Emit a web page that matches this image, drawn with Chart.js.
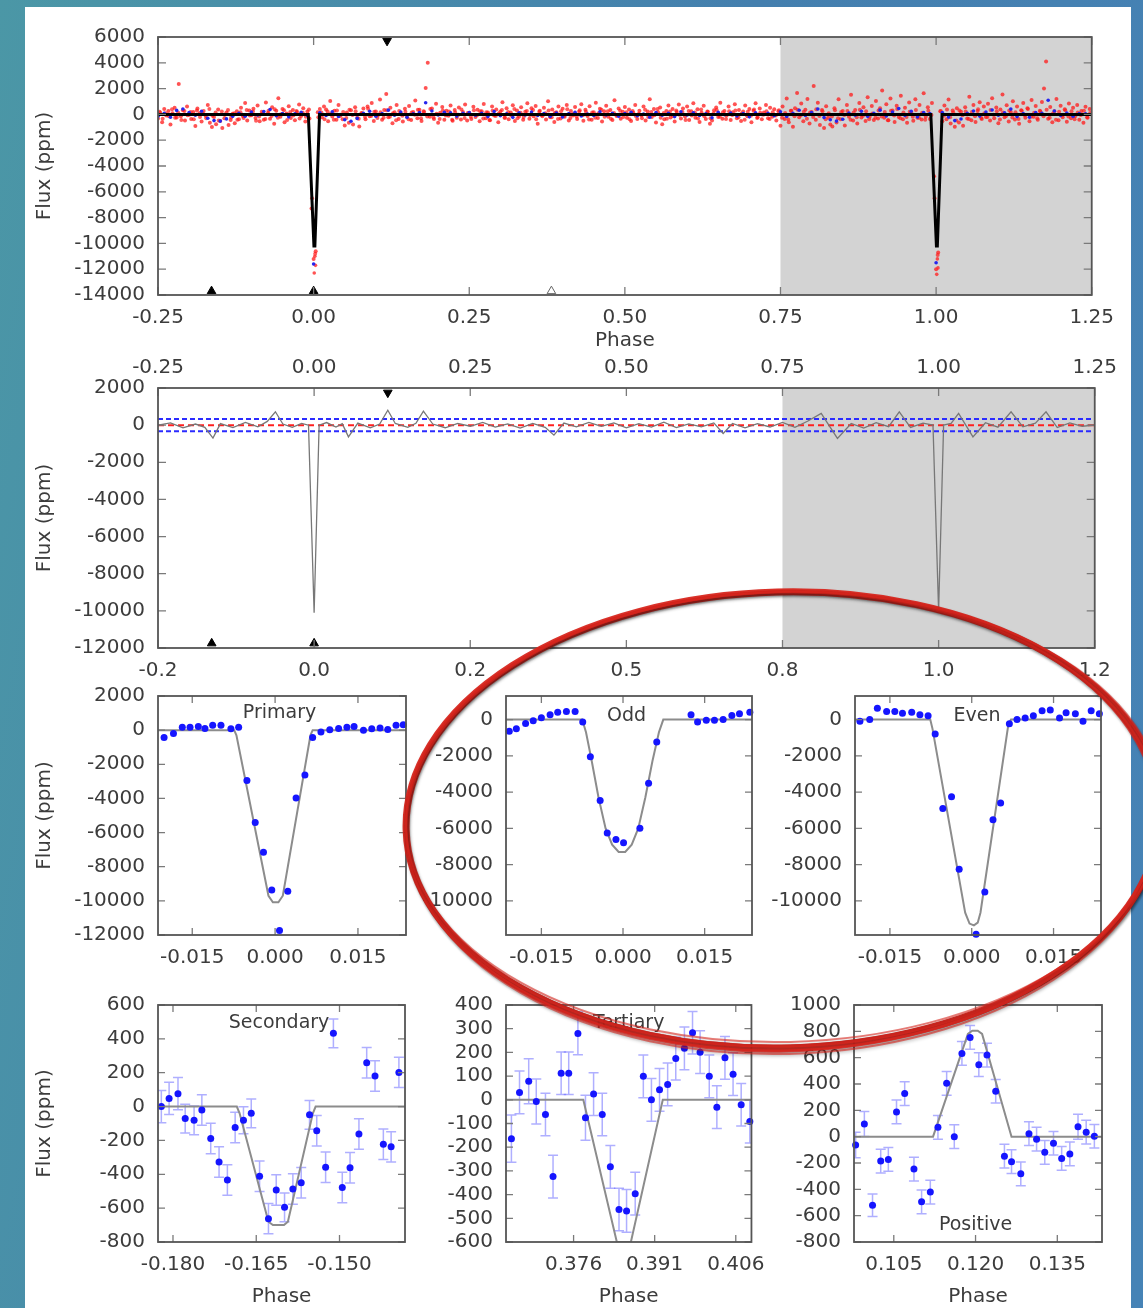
<!DOCTYPE html>
<html>
<head>
<meta charset="utf-8">
<script src="https://cdn.jsdelivr.net/npm/chart.js"></script>
<style>
  html, body { margin: 0; padding: 0; }
  body {
    width: 1143px; height: 1308px; overflow: hidden; position: relative;
    background: linear-gradient(100deg, #4b97a6 0%, #447fae 55%, #4683b6 100%);
  }
  .sheet { position: absolute; left: 25px; top: 7px; width: 1106px; height: 1310px; background: #fff; }
  canvas { position: absolute; }
  #ring { left: 0; top: 0; z-index: 5; pointer-events: none; }
</style>
</head>
<body>
<div class="sheet"></div>
<canvas id="c1"></canvas>
<canvas id="c2"></canvas>
<canvas id="cPri"></canvas>
<canvas id="cOdd"></canvas>
<canvas id="cEven"></canvas>
<canvas id="cSec"></canvas>
<canvas id="cTer"></canvas>
<canvas id="cPos"></canvas>
<canvas id="ring" width="1143" height="1308"></canvas>
<script>
// ---- full light curve (top two panels) ----
const phaseTicks = [-0.25, 0, 0.25, 0.5, 0.75, 1, 1.25];
const phaseLabels = ['-0.25', '0.00', '0.25', '0.50', '0.75', '1.00', '1.25'];
const phaseLabelsShort = ['-0.2', '0.0', '0.2', '0.5', '0.8', '1.0', '1.2'];
const p1FluxTicks = [6000, 4000, 2000, 0, -2000, -4000, -6000, -8000, -10000, -12000, -14000];
const p2FluxTicks = [2000, 0, -2000, -4000, -6000, -8000, -10000, -12000];
const shadeFrom = 0.75;

// raw photometry, evenly sampled from phase -0.25
const rawStart = -0.25, rawStep = 1.5 / 450;
const rawFlux = [
  -320, 150, -610, 420, -90, 260, -780, 80, 510, -240, 2350, -150, 330, -470, 610, -20, -350, 180, -890, 450, 90, -560, 270, -130, 720,
  -640, -980, -210, -760, 380, -520, -1050, -300, 150, -820, -430, 60, -690, 240, -370, 520, -150, 880, -480, 310, -60, 440, -270, 690, -540,
  200, -410, 930, 110, -330, 560, -720, 280, 1250, -190, 410, -600, 70, 640, -280, 350, -450, 190, 770, -120, 480, -560, 230, -310, -7300,
  -11200, -10600, 160, 420, -230, 610, 380, -540, 1040, -160, 290, -420, 720, -30, -380, -860, 140, -640, 330, -790, 560, -250, -940, 80, 450,
  -370, 610, -140, 890, -520, 230, -60, 1150, -410, 340, 1580, -230, 510, -680, 160, 720, -350, 90, -560, 430, -210, 650, -440, 180, 1070,
  -290, 370, -520, 240, 2050, 4000, -180, 460, -350, 830, -640, 120, 570, -420, 280, -110, 690, -500, 350, -260, 540, -390, 180, 760, -470,
  120, -360, 590, -200, 370, -540, 250, 810, -300, 140, -460, 620, -90, 380, -610, 230, 940, -250, 470, -380, 150, 700, -520, 300, -160,
  560, -420, 200, 870, -330, 480, -150, 660, -720, 290, -60, 510, -400, 1020, -230, 380, -580, 170, 620, -310, 440, -180, 730, -470, 260,
  -90, 580, -350, 220, 790, -500, 360, -130, 640, -420, 170, 910, -280, 430, -560, 250, 680, -190, 350, -440, 1100, -120, 460, -330, 210,
  570, -260, 380, -520, 140, 720, -350, 290, -80, 610, -470, 230, 1180, -200, 410, -630, 160, 530, -760, -380, 270, 690, -240, 420, -550,
  180, 760, -310, 450, -170, 620, -430, 240, 860, -260, 390, -580, 130, 670, -350, 200, -720, -480, 330, 540, -200, 910, -340, 260, -90,
  610, -440, 170, 780, -290, 350, -520, 230, 690, -150, 420, -610, 280, 860, -230, 460, -380, 140, 720, -300, 510, -180, 390, -470, 240,
  -880, 620, -350, 1240, -610, 290, -950, 470, 1650, -220, 840, -530, 360, 1200, -700, 180, 2200, -420, 910, -830, 350, -1050, 640, -260, -780,
  -940, 470, -620, 1180, -380, 260, -860, 730, -190, 1520, -470, 340, -700, 890, -240, 560, -520, 1320, -180, 650, -430, 1030, -310, 480, 1860,
  -250, 790, -460, 1240, 300, -580, 680, -210, 1450, -370, 520, -640, 930, 150, -490, 1180, -260, 720, -400, 1640, -180, 560, -350, 880, -4800,
  -12000, -10700, 240, -530, 690, -380, 1150, -710, 310, -960, 480, -620, 200, -880, 560, -320, 1370, -450, 720, -580, 260, 940, -350, 610, -210,
  830, -470, 1260, -300, 540, -690, 380, 1550, -220, 710, -560, 190, 1010, -390, 620, -720, 330, 880, -260, 470, -540, 1120, -180, 650, -410,
  280, 960, 2000, 4100, -330, 570, -610, 240, 1190, -450, 680, -220, 390, -570, 840, -300, 510, -150, 730, -420, 260, -640, 590, -260, 410
];
// second cadence of raw photometry, interleaved with the first
const raw2Start = -0.2475, raw2Step = 0.005;
const rawFlux2 = [
  210, -340, 80, -150, 390, -260, 120, -430, 270, -60, 180, -380, 310, -200, 40, -290, 420, -110, 150, -470, 230, -30, 340, -240, 90,
  -410, 160, -280, 350, -90, 220, -500, -170, 60, -360, 280, -130, 400, -250, 10, 330, -440, 190, -80, 260, -320, 120, -190, 380, -6500,
  -10800, -230, 140, -370, 230, 50, -420, 310, -140, 180, -270, 360, -50, 250, -330, 100, -200, 440, -120, 210, -280, 170, -260, 320, -180,
  80, -450, 270, -110, 210, -380, 140, -30, 360, -290, 190, -160, 420, -240, 60, -350, 300, -90, 230, -410, 150, -20, 380, -270, 110,
  -190, 330, -60, 250, -320, 170, -440, 280, -130, 70, 350, -250, 190, -80, 410, -300, 120, -210, 260, -40, 340, -370, 200, -150, 90,
  300, -220, 130, -350, 240, -100, 390, -280, 60, -170, 320, -60, 210, -400, 150, -260, 80, 370, -190, 250, -330, 110, -40, 290, -210,
  160, -380, 270, -120, 50, -300, 360, -210, 180, -70, 420, -260, 100, -340, 230, -150, 310, -30, 190, -430, 260, -90, 140, -310, 380,
  -140, 220, -290, 90, 340, -190, 170, -360, 250, -40, 300, -230, 60, -410, 200, -110, 380, -270, 130, -20, 240, -350, 170, -80, 320,
  -260, 110, -400, 280, -150, 360, -60, 210, -330, 150, -210, 400, -120, 250, -380, 90, -170, 330, -290, 180, -50, 270, -420, 140, -230,
  360, -110, 240, -370, 70, -250, 310, -160, 190, -450, 280, -80, 420, -300, 150, -200, 200, -180, 350, -260, 120, -410, 290, -40, -6500,
  -10900, 260, -100, 380, -220, 140, -470, 310, -60, 230, -350, 180, -140, 400, -280, 90, -210, 340, -20, 250, -390, 150, -120, 300, -240,
  170, -360, 280, -70, 410, -190, 120, -300, 230, -150, 360, -250, 60, -420, 210, -90, 330, -170, 240, -380, 140, -40, 290, -220, 100
];
const dipPhase = [0.002, 0.003, 0.001, 1.002, 1.003, 1.001];
const dipFlux = [-11000, -11700, -12300, -11200, -11900, -12400];

// binned photometry
const binStart = -0.25, binStep = 0.01;
const binFlux = [
  -150, 80, -220, 310, 420, 140, -60, 250, -300, -480, -520, -350, -150, 90, -140, 180, -50, 230, 380, -110, 60, -190, 40, 170, -90,
  -11600, 120, -80, 210, -160, -420, -530, -310, 90, 250, -140, 60, 330, -70, 180, -220, 40, 150, 900, 260, -40, 170, 120, -130, 80,
  140, -60, 90, -170, 220, -110, 40, -230, 130, -40, 180, -90, 60, -150, 110, -200, 70, 160, -120, 30, -80, 200, -50, 90, -140,
  60, 170, -100, 30, -220, 140, -60, 90, -170, 210, -40, 120, -80, 50, -260, 160, -30, 100, -120, 70, -190, 130, -10, 80, -110,
  210, -160, 80, 320, -90, 150, 420, -240, -410, -520, -380, 110, -60, 240, -150, 90, 330, -120, 180, 460, -80, 250, -190, 140, 60,
  -11500, 150, -210, -480, -360, 90, 260, -130, 180, 340, -60, 120, 410, -170, 60, -220, 140, 90, 1100, 260, -80, 110, -150, 70, 40
];

const modelPhase = [-0.25, -0.0085, 0.0005, 0.002, 0.0095, 0.9915, 1.0005, 1.002, 1.0095, 1.25];
const modelFlux = [0, 0, -10200, -10200, 0, 0, -10200, -10200, 0, 0];

// second panel: binned model and thresholds
const p2Phase = [-0.25, -0.23, -0.21, -0.19, -0.175, -0.162, -0.15, -0.13, -0.11, -0.09, -0.075, -0.062, -0.05, -0.035, -0.02, -0.009, 0, 0.008,
  0.02, 0.035, 0.045, 0.055, 0.07, 0.09, 0.105, 0.118, 0.13, 0.15, 0.163, 0.175, 0.19, 0.21, 0.23, 0.25, 0.27, 0.29, 0.31, 0.33, 0.35, 0.37,
  0.384, 0.40, 0.42, 0.44, 0.46, 0.48, 0.50, 0.52, 0.54, 0.56, 0.58, 0.60, 0.62, 0.64, 0.655, 0.67, 0.69, 0.71, 0.73, 0.75, 0.77, 0.79,
  0.812, 0.838, 0.86, 0.88, 0.90, 0.92, 0.937, 0.955, 0.975, 0.991, 1.0, 1.008, 1.02, 1.032, 1.055, 1.075, 1.095, 1.116, 1.135, 1.155,
  1.172, 1.19, 1.21, 1.23, 1.25];
const p2Flux = [0, 120, -150, 60, -120, -700, 80, -130, 150, -90, 200, 720, 60, -120, 90, 0, -10100, 0,
  140, -100, 80, -630, 110, -140, 60, 800, 90, -120, 100, 750, 60, -140, 90, -60, 150, -110, 70, -160, 90, -120,
  -540, 110, -90, 150, -70, 120, -150, 80, -110, 160, -130, 70, -90, 120, -450, 90, -140, 80, -100, 150, -120, 210,
  630, -716, 90, -160, 130, -80, 716, -120, 110, 0, -10000, 0, 90, 630, -630, 130, -110, 716, -90, 110,
  716, -130, 120, -60, 0];
const p2SigmaLevels = [330, -330];
const p2ZeroLevel = 0;

const markTop = [0.118];
const markBottom = [-0.164, 0.0];
const markOpen = [0.382];

// ---- zoomed eclipses ----
const eclTicks = [-0.015, 0, 0.015];
const eclLabels = ['-0.015', '0.000', '0.015'];
const priFluxTicks = [2000, 0, -2000, -4000, -6000, -8000, -10000, -12000];
const oddFluxTicks = [0, -2000, -4000, -6000, -8000, -10000];

const primaryPhase = [-0.0201, -0.0184, -0.0168, -0.0154, -0.0139, -0.0127, -0.0113, -0.0098, -0.0080, -0.0066, -0.0051, -0.0036, -0.0021, -0.0006, 0.0008,
  0.0023, 0.0038, 0.0054, 0.0068, 0.0083, 0.0099, 0.0115, 0.0130, 0.0143, 0.0160, 0.0175, 0.0190, 0.0204, 0.0219, 0.0232];
const primaryFlux = [-430, -200, 170, 170, 220, 100, 280, 280, 80, 170, -2950, -5410, -7150, -9360, -11730,
  -9430, -3980, -2630, -430, -110, 30, 100, 170, 220, 0, 80, 130, 40, 280, 310];
const primaryModelPhase = [-0.0215, -0.0074, -0.0070, -0.0012, -0.0004, 0.0006, 0.0014, 0.0064, 0.0068, 0.0240];
const primaryModelFlux = [0, 0, -300, -9700, -10080, -10080, -9700, -300, 0, 0];

const oddPhase = [-0.0209, -0.0196, -0.0179, -0.0165, -0.0150, -0.0134, -0.0120, -0.0104, -0.0088, -0.0074, -0.0060, -0.0042, -0.0029, -0.0013, 0.0001,
  0.0031, 0.0047, 0.0062, 0.0125, 0.0137, 0.0153, 0.0168, 0.0184, 0.0200, 0.0214, 0.0233];
const oddFlux = [-650, -510, -210, -70, 100, 260, 400, 450, 450, -130, -2050, -4460, -6260, -6620, -6790,
  -6000, -3510, -1230, 260, -130, -40, -40, 0, 230, 320, 400];
const oddModelPhase = [-0.0215, -0.0075, -0.0068, -0.0058, -0.0045, -0.0032, -0.0020, -0.0008, 0.0004, 0.0016, 0.0028, 0.0041, 0.0054, 0.0066, 0.0074, 0.0240];
const oddModelFlux = [0, 0, -700, -2200, -4300, -6000, -6900, -7300, -7300, -6900, -6000, -4300, -2300, -700, 0, 0];

const evenPhase = [-0.0205, -0.0187, -0.0173, -0.0156, -0.0141, -0.0127, -0.0110, -0.0095, -0.0080, -0.0067, -0.0053, -0.0037, -0.0023, 0.0008, 0.0024,
  0.0039, 0.0053, 0.0069, 0.0083, 0.0098, 0.0113, 0.0129, 0.0144, 0.0161, 0.0173, 0.0190, 0.0204, 0.0219, 0.0234];
const evenFlux = [-90, 0, 620, 440, 440, 350, 400, 260, 210, -790, -4910, -4250, -8250, -11840, -9510,
  -5530, -4600, -230, 0, 90, 210, 490, 530, 90, 380, 320, -90, 490, 320];
const evenModelPhase = [-0.0215, -0.0076, -0.0072, -0.0012, -0.0004, 0.0004, 0.0011, 0.0016, 0.0067, 0.0072, 0.0240];
const evenModelFlux = [0, 0, -500, -10650, -11250, -11350, -11200, -10650, -300, 0, 0];

// ---- secondary / tertiary / positive ----
const secTicks = [-0.180, -0.165, -0.150];
const secLabels = ['-0.180', '-0.165', '-0.150'];
const secFluxTicks = [600, 400, 200, 0, -200, -400, -600, -800];
const secPhase = [-0.1821, -0.1807, -0.1791, -0.1778, -0.1762, -0.1748, -0.1732, -0.1717, -0.1702, -0.1688, -0.1673, -0.1659, -0.1644, -0.1628, -0.1614,
  -0.1599, -0.1584, -0.1569, -0.1554, -0.1541, -0.1525, -0.1511, -0.1495, -0.1481, -0.1465, -0.1451, -0.1436, -0.1421, -0.1407, -0.1393];
const secFlux = [0, 48, 76, -71, -81, -20, -189, -327, -434, -123, -81, -40, -412, -662, -493,
  -595, -487, -450, -49, -143, -359, 433, -478, -361, -162, 259, 180, -223, -238, 202];
const secErr = [95, 95, 95, 85, 85, 90, 90, 90, 90, 90, 80, 85, 90, 90, 90, 85, 90, 90, 85, 90, 90, 85, 90, 90, 90, 90, 90, 90, 90, 90];
const secModelPhase = [-0.1827, -0.1685, -0.1680, -0.1628, -0.1620, -0.1600, -0.1593, -0.1548, -0.1543, -0.1382];
const secModelFlux = [0, 0, -40, -680, -700, -700, -680, -40, 0, 0];

const terTicks = [0.376, 0.391, 0.406];
const terLabels = ['0.376', '0.391', '0.406'];
const terFluxTicks = [400, 300, 200, 100, 0, -100, -200, -300, -400, -500, -600];
const terPhase = [0.3645, 0.3660, 0.3677, 0.3691, 0.3708, 0.3722, 0.3737, 0.3751, 0.3768, 0.3782, 0.3797, 0.3813, 0.3828, 0.3844, 0.3858,
  0.3874, 0.3889, 0.3904, 0.3919, 0.3934, 0.3949, 0.3965, 0.3980, 0.3994, 0.4011, 0.4025, 0.4040, 0.4055, 0.4070, 0.4086];
const terFlux = [-164, 31, 78, -7, -62, -324, 112, 112, 280, -76, 24, -62, -283, -463, -469,
  -396, 99, 0, 42, 65, 174, 217, 283, 201, 99, -31, 177, 108, -21, -92];
const terErr = [100, 90, 95, 95, 90, 90, 90, 90, 90, 95, 90, 90, 90, 90, 90, 90, 90, 90, 90, 90, 90, 90, 90, 90, 90, 90, 90, 90, 90, 90];
const terModelPhase = [0.3635, 0.3778, 0.3840, 0.3866, 0.3925, 0.4089];
const terModelFlux = [0, 0, -600, -600, 0, 0];

const posTicks = [0.105, 0.120, 0.135];
const posLabels = ['0.105', '0.120', '0.135'];
const posFluxTicks = [1000, 800, 600, 400, 200, 0, -200, -400, -600, -800];
const posPhase = [0.0980, 0.0996, 0.1011, 0.1026, 0.1040, 0.1055, 0.1070, 0.1087, 0.1101, 0.1117, 0.1131, 0.1147, 0.1161, 0.1175, 0.1190,
  0.1206, 0.1221, 0.1237, 0.1253, 0.1266, 0.1283, 0.1298, 0.1312, 0.1327, 0.1343, 0.1358, 0.1373, 0.1388, 0.1403, 0.1418];
const posFlux = [-63, 96, -521, -185, -173, 188, 327, -246, -495, -421, 71, 405, 0, 632, 754,
  547, 620, 345, -148, -190, -282, 23, -19, -119, -50, -165, -131, 76, 34, 3];
const posErr = [97, 95, 85, 90, 90, 90, 90, 90, 90, 90, 90, 90, 90, 90, 90, 90, 90, 90, 90, 90, 90, 90, 90, 90, 90, 90, 90, 95, 90, 90];
const posModelPhase = [0.0977, 0.1122, 0.1186, 0.1194, 0.1204, 0.1212, 0.1266, 0.1432];
const posModelFlux = [0, 0, 780, 805, 805, 780, 0, 0];


const TEXT = '#3c3c3c';
const FONT = { family: "'DejaVu Sans', sans-serif", size: 20 };
const LABEL_FONT = "19px 'DejaVu Sans', sans-serif";
Chart.defaults.font.family = FONT.family;
Chart.defaults.color = TEXT;
Chart.defaults.animation = false;

const pts = (xs, ys) => xs.map((x, i) => ({ x, y: ys[i] }));
const even = (start, step, ys) => ys.map((y, i) => ({ x: start + i * step, y }));

// gnuplot-like box: shading, error bars, mirrored inner ticks, in-plot label
const gnuFrame = {
  id: 'gnuFrame',
  defaults: { shadeFrom: null, label: null, tick: 7 },
  beforeDatasetsDraw(chart, args, o) {
    const { ctx, chartArea: a, scales: { x, y } } = chart;
    ctx.save();
    ctx.beginPath();
    ctx.rect(a.left, a.top, a.width, a.height);
    ctx.clip();
    if (o.shadeFrom !== null) {
      const sx = x.getPixelForValue(o.shadeFrom);
      ctx.fillStyle = '#d3d3d3';
      ctx.fillRect(sx, a.top, a.right - sx, a.height);
    }
    chart.data.datasets.forEach(ds => {
      if (!ds.errors) return;
      ctx.strokeStyle = 'rgba(95, 95, 255, 0.5)';
      ctx.lineWidth = 1.5;
      ds.data.forEach((p, i) => {
        const px = x.getPixelForValue(p.x);
        const t = y.getPixelForValue(p.y + ds.errors[i]);
        const b = y.getPixelForValue(p.y - ds.errors[i]);
        ctx.beginPath();
        ctx.moveTo(px, t); ctx.lineTo(px, b);
        ctx.moveTo(px - 5, t); ctx.lineTo(px + 5, t);
        ctx.moveTo(px - 5, b); ctx.lineTo(px + 5, b);
        ctx.stroke();
      });
    });
    ctx.restore();
  },
  afterDraw(chart, args, o) {
    const { ctx, chartArea: a, scales: { x, y } } = chart;
    ctx.save();
    ctx.strokeStyle = '#7a7a7a';
    ctx.lineWidth = 1.3;
    ctx.beginPath();
    x.ticks.forEach(t => {
      const px = x.getPixelForValue(t.value);
      ctx.moveTo(px, a.bottom); ctx.lineTo(px, a.bottom - o.tick);
      ctx.moveTo(px, a.top); ctx.lineTo(px, a.top + o.tick);
    });
    y.ticks.forEach(t => {
      const py = y.getPixelForValue(t.value);
      ctx.moveTo(a.left, py); ctx.lineTo(a.left + o.tick, py);
      ctx.moveTo(a.right, py); ctx.lineTo(a.right - o.tick, py);
    });
    ctx.stroke();
    ctx.strokeStyle = '#555';
    ctx.lineWidth = 1.8;
    ctx.strokeRect(a.left, a.top, a.width, a.height);
    if (o.label) {
      ctx.fillStyle = TEXT;
      ctx.font = LABEL_FONT;
      ctx.textAlign = 'center';
      ctx.textBaseline = 'middle';
      ctx.fillText(o.label.text, a.left + a.width * o.label.fx, a.top + a.height * o.label.fy);
    }
    ctx.restore();
  }
};
Chart.register(gnuFrame);

function xAxis(min, max, ticks, labels, size, extra) {
  return Object.assign({
    type: 'linear', position: 'bottom', min, max,
    afterBuildTicks: s => { s.ticks = ticks.map(v => ({ value: v })); },
    afterFit: s => { s.height = size; },
    grid: { display: false, drawTicks: false },
    border: { display: false },
    ticks: { autoSkip: false, maxRotation: 0, minRotation: 0, padding: 11, color: TEXT, font: FONT,
      callback: (v, i) => labels[i] }
  }, extra || {});
}

function yAxis(min, max, ticks, size, title) {
  return {
    type: 'linear', min, max,
    afterBuildTicks: s => { s.ticks = ticks.map(v => ({ value: v })); },
    afterFit: s => { s.width = size; },
    grid: { display: false, drawTicks: false },
    border: { display: false },
    ticks: { autoSkip: false, padding: 13, color: TEXT, font: FONT, callback: v => String(v) },
    title: title ? { display: true, text: 'Flux (ppm)', color: TEXT, font: FONT, padding: { top: 5, bottom: 0 } } : { display: false }
  };
}

function makePanel(id, area, pad, datasets, scales, frame, topAxis) {
  const c = document.getElementById(id);
  const w = area[2] - area[0] + pad.l + pad.r;
  const h = area[3] - area[1] + pad.t + pad.b;
  c.width = w; c.height = h;
  c.style.width = w + 'px'; c.style.height = h + 'px';
  c.style.left = (area[0] - pad.l) + 'px';
  c.style.top = (area[1] - pad.t) + 'px';
  return new Chart(c, {
    type: 'scatter',
    data: { datasets },
    options: {
      responsive: false, devicePixelRatio: 1,
      layout: { autoPadding: false, padding: { left: 0, bottom: 0, right: pad.r, top: topAxis ? 0 : pad.t } },
      plugins: { legend: { display: false }, tooltip: { enabled: false }, gnuFrame: frame },
      scales
    }
  });
}

function marks(xs, yv, down, open) {
  return {
    data: xs.map(x => ({ x, y: yv })),
    pointStyle: 'triangle', pointRadius: 5, rotation: down ? 180 : 0,
    backgroundColor: open ? 'rgba(0,0,0,0)' : '#000',
    borderColor: open ? '#666' : '#000', borderWidth: 1
  };
}

function curve(data, color, width, dash) {
  return { data, showLine: true, pointRadius: 0, borderColor: color, borderWidth: width, borderDash: dash || [], tension: 0 };
}

const phaseTitle = { display: true, text: 'Phase', color: TEXT, font: FONT, padding: 0 };

// ---- panel 1: full phase curve ----
makePanel('c1', [158, 32, 1095, 295], { l: 130, r: 30, t: 20, b: 58 }, [
  marks(markTop, 5700, true),
  marks(markBottom, -13700, false),
  marks(markOpen, -13700, false, true),
  curve(pts(modelPhase, modelFlux), '#000', 3),
  { data: even(binStart, binStep, binFlux), pointRadius: 1.8, backgroundColor: '#2525ee', borderWidth: 0 },
  { data: pts(dipPhase, dipFlux), pointRadius: 1.8, backgroundColor: 'rgba(255,40,40,0.8)', borderWidth: 0 },
  { data: even(raw2Start, raw2Step, rawFlux2), pointRadius: 2, backgroundColor: 'rgba(255,25,25,0.7)', borderWidth: 0 },
  { data: even(rawStart, rawStep, rawFlux), pointRadius: 2, backgroundColor: 'rgba(255,25,25,0.75)', borderWidth: 0 }
], {
  x: xAxis(-0.25, 1.25, phaseTicks, phaseLabels, 58, { title: phaseTitle }),
  y: yAxis(-14000, 6000, p1FluxTicks, 130, true)
}, { shadeFrom: shadeFrom, tick: 8 });

// ---- panel 2: binned model with thresholds ----
const topAxis = xAxis(-0.25, 1.25, phaseTicks, phaseLabels, 32, { position: 'top' });
topAxis.ticks.padding = 8;
makePanel('c2', [158, 388, 1095, 648], { l: 130, r: 30, t: 32, b: 40 }, [
  marks(markTop, 1750, true),
  marks(markBottom, -11750, false),
  curve(pts(p2Phase, p2Flux), '#777', 1.3),
  curve(pts([-0.25, 1.25], [p2ZeroLevel, p2ZeroLevel]), '#ff2020', 2, [6, 4]),
  curve(pts([-0.25, 1.25], [p2SigmaLevels[0], p2SigmaLevels[0]]), '#2b2bff', 2, [5, 3]),
  curve(pts([-0.25, 1.25], [p2SigmaLevels[1], p2SigmaLevels[1]]), '#2b2bff', 2, [5, 3])
], {
  x: xAxis(-0.25, 1.25, phaseTicks, phaseLabelsShort, 40),
  x2: topAxis,
  y: yAxis(-12000, 2000, p2FluxTicks, 130, true)
}, { shadeFrom: shadeFrom, tick: 8 }, true);

// ---- small panels ----
function smallPanel(p) {
  const sets = [
    { data: pts(p.phase, p.flux), errors: p.err, pointRadius: 3.5, backgroundColor: '#1515ff', borderWidth: 0, clip: false },
    curve(pts(p.mPhase, p.mFlux), '#8c8c8c', 2)
  ];
  const x = xAxis(p.xr[0], p.xr[1], p.xt, p.xl, p.padB, p.phaseTitle ? { title: phaseTitle } : {});
  makePanel(p.id, p.area, { l: p.padL, r: 25, t: 14, b: p.padB }, sets,
    { x, y: yAxis(p.yr[0], p.yr[1], p.yt, p.padL, p.yTitle) },
    { label: p.label, tick: 7 });
}

smallPanel({ id: 'cPri', area: [158, 685, 406, 935], padL: 130, padB: 40, yTitle: true,
  xr: [-0.0212, 0.0237], yr: [-12000, 2000], xt: eclTicks, xl: eclLabels, yt: priFluxTicks,
  phase: primaryPhase, flux: primaryFlux, mPhase: primaryModelPhase, mFlux: primaryModelFlux,
  label: { text: 'Primary', fx: 0.49, fy: 0.072 } });
smallPanel({ id: 'cOdd', area: [506, 685, 752, 935], padL: 100, padB: 40,
  xr: [-0.0215, 0.0237], yr: [-11880, 1300], xt: eclTicks, xl: eclLabels, yt: oddFluxTicks,
  phase: oddPhase, flux: oddFlux, mPhase: oddModelPhase, mFlux: oddModelFlux,
  label: { text: 'Odd', fx: 0.49, fy: 0.084 } });
smallPanel({ id: 'cEven', area: [855, 685, 1101, 935], padL: 100, padB: 40,
  xr: [-0.0214, 0.0237], yr: [-11880, 1300], xt: eclTicks, xl: eclLabels, yt: oddFluxTicks,
  phase: evenPhase, flux: evenFlux, mPhase: evenModelPhase, mFlux: evenModelFlux,
  label: { text: 'Even', fx: 0.496, fy: 0.084 } });
smallPanel({ id: 'cSec', area: [158, 994, 405, 1242], padL: 130, padB: 67, yTitle: true, phaseTitle: true,
  xr: [-0.1827, -0.1382], yr: [-800, 600], xt: secTicks, xl: secLabels, yt: secFluxTicks,
  phase: secPhase, flux: secFlux, err: secErr, mPhase: secModelPhase, mFlux: secModelFlux,
  label: { text: 'Secondary', fx: 0.49, fy: 0.077 } });
smallPanel({ id: 'cTer', area: [506, 994, 752, 1242], padL: 100, padB: 67, phaseTitle: true,
  xr: [0.3635, 0.4089], yr: [-600, 400], xt: terTicks, xl: terLabels, yt: terFluxTicks,
  phase: terPhase, flux: terFlux, err: terErr, mPhase: terModelPhase, mFlux: terModelFlux,
  label: { text: 'Tertiary', fx: 0.5, fy: 0.077 } });
smallPanel({ id: 'cPos', area: [854, 994, 1102, 1242], padL: 100, padB: 67, phaseTitle: true,
  xr: [0.0977, 0.1432], yr: [-800, 1000], xt: posTicks, xl: posLabels, yt: posFluxTicks,
  phase: posPhase, flux: posFlux, err: posErr, mPhase: posModelPhase, mFlux: posModelFlux,
  label: { text: 'Positive', fx: 0.49, fy: 0.927 } });

// hand-drawn red ring around the odd/even panels
const ring = document.getElementById('ring').getContext('2d');
ring.save();
ring.translate(783, 820);
ring.rotate(-0.025);
ring.shadowColor = 'rgba(0,0,0,0.3)';
ring.shadowBlur = 3;
ring.shadowOffsetX = 1;
ring.shadowOffsetY = 2;
[[0, 0, 7, 0.95], [1.5, -1, 3, 0.8], [-1.5, 1.5, 3, 0.8], [0, 3, 2, 0.6], [2, -3, 2, 0.6]].forEach(([dx, dy, lw, al]) => {
  ring.beginPath();
  ring.ellipse(dx, dy, 377 + dx, 228 + dy, 0, 0, Math.PI * 2);
  ring.lineWidth = lw;
  ring.strokeStyle = `rgba(216, 38, 30, ${al})`;
  ring.stroke();
});
ring.restore();
</script>
</body>
</html>
